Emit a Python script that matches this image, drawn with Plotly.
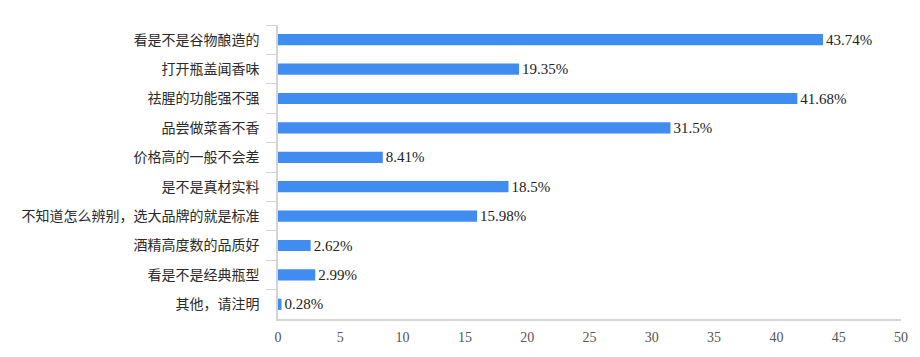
import plotly.graph_objects as go

categories = ["看是不是谷物酿造的", "打开瓶盖闻香味", "祛腥的功能强不强", "品尝做菜香不香",
              "价格高的一般不会差", "是不是真材实料", "不知道怎么辨别，选大品牌的就是标准",
              "酒精高度数的品质好", "看是不是经典瓶型", "其他，请注明"]
values = [43.74, 19.35, 41.68, 31.5, 8.41, 18.5, 15.98, 2.62, 2.99, 0.28]
labels = [f"{v}%" for v in values]
x_ticks = [0, 5, 10, 15, 20, 25, 30, 35, 40, 45, 50]

font_fam = "Liberation Serif, Times New Roman, Noto Sans CJK SC, serif"

fig = go.Figure(go.Bar(
    y=categories, x=values, orientation="h",
    marker=dict(color="#418cf0", line=dict(width=0)),
    width=0.38,
    text=labels, textposition="outside", cliponaxis=False, constraintext="none",
    textfont=dict(family=font_fam, size=15, color="#222222"),
))

fig.update_layout(
    width=912, height=349,
    margin=dict(l=270, r=18, t=17, b=36),
    paper_bgcolor="white", plot_bgcolor="white",
    showlegend=False,
    font=dict(family=font_fam, size=14, color="#333333"),
)
fig.update_xaxes(
    range=[0, 50], tickvals=x_ticks, showgrid=False, zeroline=False,
    showline=True, linecolor="#d4d4d8", linewidth=1.5, ticks="",
    tickfont=dict(size=14, color="#555555"), ticklabelstandoff=4,
)
fig.update_yaxes(
    autorange="reversed", showgrid=False, zeroline=False,
    showline=True, linecolor="#d4d4d8", linewidth=1.5,
    ticks="outside", tickson="boundaries", ticklen=10, tickcolor="#d4d4d8",
    tickfont=dict(size=14, color="#2a2a2a"), ticklabelstandoff=14,
)

fig.write_html("out.html")
